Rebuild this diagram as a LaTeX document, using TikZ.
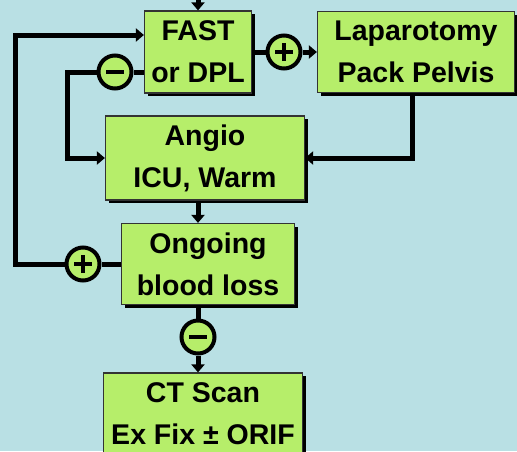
\documentclass[tikz,border=0pt]{standalone}
\usepackage{fontspec}
\setmainfont{Liberation Sans}
\usetikzlibrary{arrows.meta,shadows}
\definecolor{sky}{RGB}{185,224,228}
\definecolor{leaf}{RGB}{182,238,106}
\begin{document}
\begin{tikzpicture}[x=1pt,y=-1pt,
  box/.style={draw=black!80,line width=1.2pt,fill=leaf,align=center,inner sep=0pt,
    font=\bfseries\fontsize{28.5}{42}\selectfont,
    drop shadow={fill=black,opacity=1,shadow xshift=3pt,shadow yshift=-3pt}},
  sign/.style={circle,draw,line width=4pt,fill=leaf,minimum size=33pt,inner sep=0pt},
  minus/.style={sign,path picture={\draw[line width=4.5pt]
    ([xshift=-9pt]path picture bounding box.center) -- ([xshift=9pt]path picture bounding box.center);}},
  plus/.style={sign,path picture={\draw[line width=4.5pt]
    ([xshift=-9pt]path picture bounding box.center) -- ([xshift=9pt]path picture bounding box.center)
    ([yshift=-9pt]path picture bounding box.center) -- ([yshift=9pt]path picture bounding box.center);}},
  wire/.style={line width=5pt},
  flow/.style={wire,-{Triangle[length=8pt,width=13pt]}}]
\fill[sky] (0,0) rectangle (517,451);
\clip (0,0) rectangle (517,451);
\node[box,minimum width=107pt,minimum height=82pt] (fast) at (198,52) {FAST\\or DPL};
\node[box,minimum width=197pt,minimum height=81pt] (lap) at (416,52) {Laparotomy\\Pack Pelvis};
\node[box,minimum width=199pt,minimum height=84pt] (angio) at (205,158) {Angio\\ICU, Warm};
\node[box,minimum width=173pt,minimum height=81pt] (ongoing) at (208,264) {Ongoing\\blood loss};
\node[box,minimum width=199pt,minimum height=82pt] (ct) at (203,414) {CT Scan\\Ex Fix ± ORIF};
\node[plus] (yes1) at (284,52) {};
\node[minus] (no1) at (115,72) {};
\node[plus] (yes2) at (83,264) {};
\node[minus] (no2) at (198,337) {};
\coordinate (entry) at (198,0);
\coordinate (loop) at (67,72);
\coordinate (back) at (15,35);
\draw[flow] (entry) -- (fast.north);
\draw[wire] (fast.east) -- (yes1.west);
\draw[flow] (yes1.east) -- (lap.west);
\draw[wire] (no1 -| fast.west) -- (no1.east);
\draw[flow] (no1.west) -- (loop) |- (angio.west);
\draw[flow] (lap.south -| 412,0) |- (angio.east);
\draw[flow] (angio.south -| fast.south) -- (ongoing.north -| fast.south);
\draw[wire] (ongoing.west) -- (yes2.east);
\draw[flow] (yes2.west) -| (back) -- (back -| fast.west);
\draw[wire] (ongoing.south -| no2) -- (no2.north);
\draw[flow] (no2.south) -- (ct.north -| no2);
\end{tikzpicture}
\end{document}
